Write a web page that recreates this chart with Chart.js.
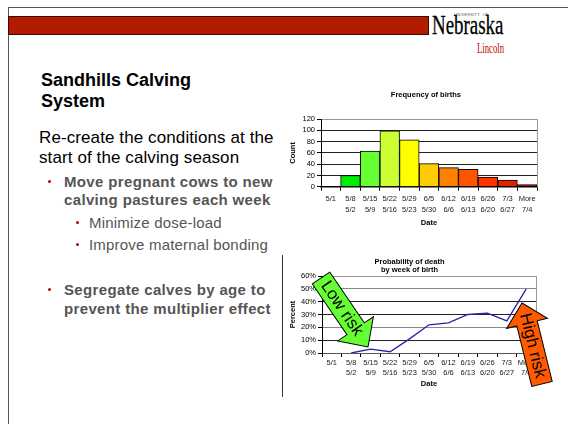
<!DOCTYPE html>
<html>
<head>
<meta charset="utf-8">
<script src="https://cdn.jsdelivr.net/npm/chart.js@4"></script>
<style>
  html, body { margin:0; padding:0; background:#fff; }
  body { width:568px; height:424px; position:relative; overflow:hidden; font-family:"Liberation Sans", Arial, sans-serif; }
  .abs { position:absolute; white-space:nowrap; line-height:1; }
  .dot { position:absolute; width:3px; height:3px; border-radius:50%; background:#c00000; }
  canvas { position:absolute; }
</style>
</head>
<body>
<!-- slide frame -->
<div class="abs" style="left:8px;top:7px;width:560px;height:1px;background:#555;"></div>
<div class="abs" style="left:8px;top:7px;width:1px;height:417px;background:#555;"></div>
<div class="abs" style="left:8px;top:16px;width:419px;height:17px;background:#b31b00;border:1px solid #3a0a00;"></div>
<!-- logo -->
<div class="abs" style="left:454px;top:12.5px;font-size:4px;color:#555;letter-spacing:0.2px;">UNIVERSITY&nbsp;&nbsp;OF</div>
<div class="abs" style="left:432px;top:11.5px;font-family:'Liberation Serif',serif;font-size:27px;color:#000;transform:scaleX(0.7);transform-origin:0 0;-webkit-text-stroke:0.3px #000;">Nebraska</div>
<div class="abs" style="left:477px;top:41.5px;font-family:'Liberation Serif',serif;font-size:14px;color:#c00000;transform:scaleX(0.62);transform-origin:0 0;">Lincoln</div>
<!-- text -->
<div class="abs" style="left:41px;top:71px;font-size:18px;font-weight:bold;color:#000;">Sandhills Calving</div>
<div class="abs" style="left:41px;top:92px;font-size:18px;font-weight:bold;color:#000;">System</div>
<div class="abs" style="left:39px;top:129px;font-size:17px;color:#000;letter-spacing:0.1px;">Re-create the conditions at the</div>
<div class="abs" style="left:39px;top:149px;font-size:17px;color:#000;letter-spacing:0.1px;">start of the calving season</div>
<div class="dot" style="left:48px;top:180px;"></div>
<div class="abs" style="left:64px;top:173.5px;font-size:15px;font-weight:bold;color:#555;letter-spacing:0.35px;">Move pregnant cows to new</div>
<div class="abs" style="left:64px;top:191.5px;font-size:15px;font-weight:bold;color:#555;letter-spacing:0.35px;">calving pastures each week</div>
<div class="dot" style="left:76px;top:221px;"></div>
<div class="abs" style="left:89px;top:214.5px;font-size:15px;color:#555;letter-spacing:0.2px;">Minimize dose-load</div>
<div class="dot" style="left:76px;top:243px;"></div>
<div class="abs" style="left:89px;top:236.5px;font-size:15px;color:#555;letter-spacing:0.2px;">Improve maternal bonding</div>
<div class="dot" style="left:48px;top:288px;"></div>
<div class="abs" style="left:64px;top:282px;font-size:15px;font-weight:bold;color:#555;letter-spacing:0.35px;">Segregate calves by age to</div>
<div class="abs" style="left:64px;top:300.5px;font-size:15px;font-weight:bold;color:#555;letter-spacing:0.35px;">prevent the multiplier effect</div>
<!-- frame of lower chart -->
<div class="abs" style="left:282px;top:255px;width:1px;height:142px;background:#333;"></div>

<canvas id="bar" width="277" height="145" style="left:283px;top:85px;"></canvas>
<canvas id="line" width="277" height="145" style="left:283px;top:255px;"></canvas>

<script>
// ---- data ----
const weekEnd   = ['5/1', '5/8', '5/15', '5/22', '5/29', '6/5', '6/12', '6/19', '6/26', '7/3', 'More'];
const weekStart = ['',    '5/2', '5/9',  '5/16', '5/23', '5/30', '6/6', '6/13', '6/20', '6/27', '7/4'];
const births    = [0, 20, 63, 99, 83, 41, 34, 31, 17, 12, 4];
const deathPct  = [null, 0, 3, 1, 11, 22, 23.5, 30, 31, 25, 50];
const barColors = ['#00ee00', '#00ee00', '#66ff33', '#ccff33', '#ffff00', '#ffcc00', '#ff8000', '#ff5500', '#ff3300', '#dd2200', '#991100'];
const countTicks = { min: 0, max: 120, step: 20 };
const pctTicks   = { min: 0, max: 60, step: 10 };

const labels = weekEnd.map((w, i) => weekStart[i] ? [w, weekStart[i]] : [w]);

Chart.defaults.font.family = '"Liberation Sans", Arial, sans-serif';
Chart.defaults.color = '#000';

const plotBorder = {
  id: 'plotBorder',
  afterDatasetsDraw(chart) {
    const { ctx, chartArea: a } = chart;
    ctx.save();
    ctx.strokeStyle = '#999';
    ctx.lineWidth = 1;
    ctx.beginPath();
    ctx.moveTo(Math.round(a.right) + 0.5, a.top);
    ctx.lineTo(Math.round(a.right) + 0.5, a.bottom);
    ctx.stroke();
    ctx.restore();
  }
};

function drawArrow(ctx, tail, tip, shaftW, headW, headL, fill, text, textFromTip, textDist, fontSize) {
  const dx = tip.x - tail.x, dy = tip.y - tail.y;
  const len = Math.hypot(dx, dy);
  const ang = Math.atan2(dy, dx);
  ctx.save();
  ctx.translate(tail.x, tail.y);
  ctx.rotate(ang);
  ctx.beginPath();
  ctx.moveTo(0, -shaftW / 2);
  ctx.lineTo(len - headL, -shaftW / 2);
  ctx.lineTo(len - headL, -headW / 2);
  ctx.lineTo(len, 0);
  ctx.lineTo(len - headL, headW / 2);
  ctx.lineTo(len - headL, shaftW / 2);
  ctx.lineTo(0, shaftW / 2);
  ctx.closePath();
  ctx.fillStyle = fill;
  ctx.fill();
  ctx.strokeStyle = '#000';
  ctx.lineWidth = 1;
  ctx.stroke();
  ctx.restore();
  const ux = dx / len, uy = dy / len;
  let cx, cy, tAng;
  if (textFromTip) {
    cx = tip.x - ux * textDist; cy = tip.y - uy * textDist; tAng = ang + Math.PI;
  } else {
    cx = tail.x + ux * textDist; cy = tail.y + uy * textDist; tAng = ang;
  }
  ctx.save();
  ctx.translate(cx, cy);
  ctx.rotate(tAng);
  ctx.font = fontSize + 'px "Liberation Sans", Arial, sans-serif';
  ctx.fillStyle = '#000';
  ctx.textAlign = 'center';
  ctx.textBaseline = 'middle';
  ctx.fillText(text, 0, 0);
  ctx.restore();
}

const riskArrows = {
  id: 'riskArrows',
  afterDraw(chart) {
    const { ctx, chartArea: a } = chart;
    drawArrow(ctx, { x: a.left - 1, y: a.top + 2 }, { x: a.left + 46, y: a.top + 71 },
      21, 43, 22, '#66ff33', 'Low risk', false, 37, 17);
    drawArrow(ctx, { x: a.right + 6, y: a.bottom + 31 }, { x: a.right - 14, y: a.bottom - 50 },
      21, 42, 21, '#ff5a00', 'High risk', true, 44, 17);
  }
};

new Chart(document.getElementById('bar'), {
  type: 'bar',
  data: {
    labels: labels,
    datasets: [{
      data: births,
      backgroundColor: barColors,
      borderColor: '#000',
      borderWidth: 1,
      barPercentage: 1,
      categoryPercentage: 1
    }]
  },
  options: {
    responsive: false, animation: false, devicePixelRatio: 1,
    layout: { padding: { left: 0, right: 23, top: 0, bottom: 2.25 } },
    plugins: {
      legend: { display: false },
      tooltip: { enabled: false },
      title: {
        display: true, fullSize: false,
        text: 'Frequency of births\u00a0\u00a0\u00a0',
        font: { size: 7.5, weight: 'bold', lineHeight: 1.2 },
        padding: { top: 5.5, bottom: 19.5 },
        color: '#000'
      }
    },
    scales: {
      x: {
        grid: { offset: true, drawOnChartArea: false, drawTicks: true, tickLength: 4, color: '#000' },
        border: { color: '#000', width: 1.5 },
        ticks: { font: { size: 7.5, lineHeight: 11 / 7.5 }, padding: 3, color: '#222', maxRotation: 0, autoSkip: false },
        title: { display: true, text: 'Date', font: { size: 7.5, weight: 'bold', lineHeight: 1.2 }, padding: { top: 0, bottom: 0 } }
      },
      y: {
        min: countTicks.min, max: countTicks.max,
        ticks: { stepSize: countTicks.step, autoSkip: false, font: { size: 7.5 }, padding: 2, color: '#000' },
        grid: { color: c => c.tick && c.tick.value === countTicks.max ? '#999' : '#222', tickColor: '#000', tickLength: 4 },
        border: { color: '#000' },
        title: { display: true, text: 'Count', font: { size: 7.5, weight: 'bold', lineHeight: 1.2 }, padding: { top: 5.5, bottom: 0 } },
        afterFit(s) { s.width = 38; }
      }
    }
  },
  plugins: [plotBorder]
});

const pctGridColors = { 60: '#999', 50: '#888', 40: '#222', 30: '#222', 20: '#888', 10: '#222', 0: '#555' };

new Chart(document.getElementById('line'), {
  type: 'line',
  data: {
    labels: labels,
    datasets: [{
      data: deathPct,
      borderColor: '#2525a5',
      borderWidth: 1.3,
      pointRadius: 0,
      fill: false,
      tension: 0
    }]
  },
  options: {
    responsive: false, animation: false, devicePixelRatio: 1,
    layout: { padding: { left: 0, right: 24, top: 0, bottom: 11.5 } },
    plugins: {
      legend: { display: false },
      tooltip: { enabled: false },
      title: {
        display: true,
        text: ['Probability of death', 'by week of birth'],
        font: { size: 7.5, weight: 'bold', lineHeight: 1.1 },
        padding: { top: 2.9, bottom: 1.6 },
        color: '#000'
      }
    },
    scales: {
      x: {
        offset: true,
        grid: { offset: true, drawOnChartArea: false, drawTicks: true, tickLength: 4, color: '#000' },
        border: { color: '#555', width: 1 },
        ticks: { font: { size: 7.5, lineHeight: 10 / 7.5 }, padding: 1, color: '#222', maxRotation: 0, autoSkip: false },
        title: { display: true, text: 'Date', font: { size: 7.5, weight: 'bold', lineHeight: 1.2 }, padding: { top: 0.5, bottom: 0 } }
      },
      y: {
        min: pctTicks.min, max: pctTicks.max,
        ticks: { stepSize: pctTicks.step, autoSkip: false, font: { size: 7.5 }, padding: 2, color: '#000', callback: v => v + '%' },
        grid: { color: c => (c.tick && pctGridColors[c.tick.value]) || '#222', tickColor: '#000', tickLength: 4 },
        border: { color: '#000' },
        title: { display: true, text: 'Percent', font: { size: 7.5, weight: 'bold', lineHeight: 1.2 }, padding: { top: 5, bottom: 0 } },
        afterFit(s) { s.width = 39; }
      }
    }
  },
  plugins: [plotBorder, riskArrows]
});
</script>
</body>
</html>
